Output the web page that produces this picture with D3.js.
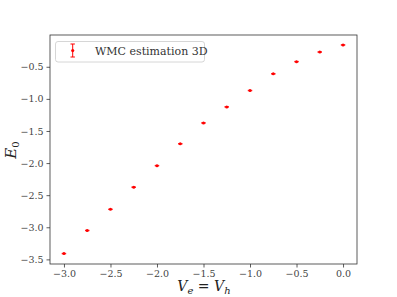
<!DOCTYPE html>
<html>
<head>
<meta charset="utf-8">
<script src="https://cdn.jsdelivr.net/npm/d3@7"></script>
<style>
  body { margin: 0; background: #fff; }
  text { font-family: "DejaVu Serif", "Liberation Serif", serif; }
</style>
</head>
<body>
<div id="chart-area"></div>
<script>
// values
const potentials = [-3.0, -2.75, -2.5, -2.25, -2.0, -1.75, -1.5, -1.25, -1.0, -0.75, -0.5, -0.25, 0.0];
const energies   = [-3.41, -3.05, -2.72, -2.375, -2.04, -1.70, -1.375, -1.125, -0.87, -0.61, -0.42, -0.27, -0.16];
const errors     = [0.004, 0.004, 0.004, 0.004, 0.004, 0.004, 0.004, 0.004, 0.004, 0.004, 0.004, 0.004, 0.004];
const xTicks = [-3.0, -2.5, -2.0, -1.5, -1.0, -0.5, 0.0];
const yTicks = [-3.5, -3.0, -2.5, -2.0, -1.5, -1.0, -0.5];
const legendLabel = "WMC estimation 3D";

const width = 397, height = 297;
const margin = {left: 50, right: 40, top: 35, bottom: 33};

const svg = d3.select("#chart-area").append("svg")
    .attr("width", width)
    .attr("height", height);

const x = d3.scaleLinear().domain([-3.15, 0.15]).range([margin.left, width - margin.right]);
const y = d3.scaleLinear().domain([-3.572, -0.005]).range([height - margin.bottom, margin.top]);

const fmt = d => (d < 0 ? "\u2212" : "") + Math.abs(d).toFixed(1);

// axes
svg.append("g")
    .attr("transform", `translate(0,${height - margin.bottom})`)
    .call(d3.axisBottom(x).tickValues(xTicks).tickFormat(fmt).tickSize(3.5).tickPadding(2.5))
    .call(g => g.select(".domain").remove())
    .call(g => g.selectAll("line").attr("stroke", "#333").attr("stroke-width", 0.8))
    .call(g => g.selectAll("text").attr("font-size", 9.5).attr("fill", "#444")
        .style("font-family", "'DejaVu Serif', serif"));

svg.append("g")
    .attr("transform", `translate(${margin.left},0)`)
    .call(d3.axisLeft(y).tickValues(yTicks).tickFormat(fmt).tickSize(3.5).tickPadding(3))
    .call(g => g.select(".domain").remove())
    .call(g => g.selectAll("line").attr("stroke", "#333").attr("stroke-width", 0.8))
    .call(g => g.selectAll("text").attr("font-size", 9.5).attr("fill", "#444")
        .style("font-family", "'DejaVu Serif', serif"));

// frame
svg.append("rect")
    .attr("x", margin.left).attr("y", margin.top)
    .attr("width", width - margin.left - margin.right)
    .attr("height", height - margin.top - margin.bottom)
    .attr("fill", "none").attr("stroke", "#333").attr("stroke-width", 0.8);

// error bars + points
const pts = potentials.map((v, i) => ({v, e: energies[i], err: errors[i]}));
const pg = svg.append("g");
pg.selectAll("line.bar").data(pts).join("line")
    .attr("x1", d => x(d.v)).attr("x2", d => x(d.v))
    .attr("y1", d => y(d.e - d.err)).attr("y2", d => y(d.e + d.err))
    .attr("stroke", "red").attr("stroke-width", 1);
pg.selectAll("line.caplo").data(pts).join("line")
    .attr("x1", d => x(d.v) - 2.2).attr("x2", d => x(d.v) + 2.2)
    .attr("y1", d => y(d.e - d.err)).attr("y2", d => y(d.e - d.err))
    .attr("stroke", "red").attr("stroke-width", 0.8);
pg.selectAll("line.caphi").data(pts).join("line")
    .attr("x1", d => x(d.v) - 2.2).attr("x2", d => x(d.v) + 2.2)
    .attr("y1", d => y(d.e + d.err)).attr("y2", d => y(d.e + d.err))
    .attr("stroke", "red").attr("stroke-width", 0.8);
pg.selectAll("circle").data(pts).join("circle")
    .attr("cx", d => x(d.v)).attr("cy", d => y(d.e))
    .attr("r", 1.5).attr("fill", "red");

// legend
const lg = svg.append("g");
lg.append("rect")
    .attr("x", 55.5).attr("y", 41.5).attr("width", 149).attr("height", 20.5).attr("rx", 2.5)
    .attr("fill", "#fff").attr("stroke", "#ccc").attr("stroke-width", 0.8);
lg.append("line").attr("x1", 72.7).attr("x2", 72.7).attr("y1", 44).attr("y2", 57)
    .attr("stroke", "red").attr("stroke-width", 1);
[44, 57].forEach(yy => lg.append("line").attr("x1", 70.5).attr("x2", 74.9).attr("y1", yy).attr("y2", yy)
    .attr("stroke", "red").attr("stroke-width", 1));
lg.append("circle").attr("cx", 72.7).attr("cy", 50.5).attr("r", 1.6).attr("fill", "red");
lg.append("text").attr("x", 95).attr("y", 55).attr("font-size", 11).attr("fill", "#333")
    .text(legendLabel);

// axis labels
const xl = svg.append("text").attr("x", 204).attr("y", 291).attr("text-anchor", "middle")
    .attr("font-size", 14).attr("font-style", "italic").attr("fill", "#222");
xl.append("tspan").text("V");
xl.append("tspan").attr("font-size", 10).attr("dy", 3).text("e");
xl.append("tspan").attr("dy", -3).attr("font-style", "normal").text(" = ");
xl.append("tspan").text("V");
xl.append("tspan").attr("font-size", 10).attr("dy", 3).text("h");

const yl = svg.append("text").attr("transform", "translate(16,150) rotate(-90)").attr("text-anchor", "middle")
    .attr("font-size", 15).attr("font-style", "italic").attr("fill", "#222");
yl.append("tspan").text("E");
yl.append("tspan").attr("font-size", 10).attr("font-style", "normal").attr("dy", 3).text("0");
</script>
</body>
</html>
